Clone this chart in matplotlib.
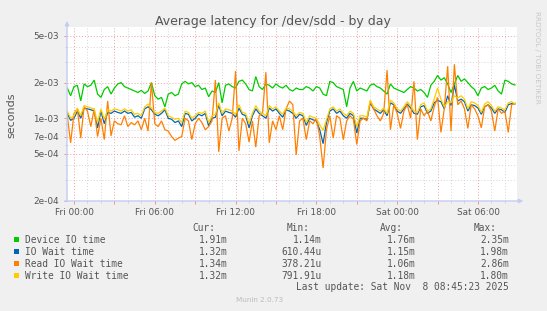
import numpy as np
import matplotlib
matplotlib.use("Agg")
import matplotlib.pyplot as plt
from matplotlib.patches import Rectangle

# ---------------- data (milliseconds), 15-minute samples from Thu 23:30 ----------------
t_start_hours = -0.5
step_hours = 0.25

device_ms = [
    1.80, 1.55, 1.85, 1.90, 1.40, 1.95, 1.85, 1.90, 2.10, 1.60,
    1.50, 1.75, 1.85, 1.60, 1.80, 1.95, 2.00, 1.85, 1.80, 1.75,
    1.70, 1.65, 1.72, 1.62, 1.70, 2.00, 1.55, 1.45, 1.50, 1.25,
    1.60, 1.65, 1.55, 1.60, 1.95, 2.05, 1.95, 2.00, 1.85, 1.90,
    1.75, 1.80, 1.52, 1.70, 1.65, 2.00, 1.35, 1.90, 1.95, 1.85,
    1.80, 2.05, 2.10, 1.95, 1.75, 1.70, 2.25, 1.85, 1.75, 1.95,
    1.90, 1.80, 1.95, 1.85, 1.80, 1.90, 1.75, 1.70, 1.80, 1.75,
    1.75, 1.85, 1.80, 1.70, 1.85, 1.80, 1.60, 1.55, 2.05, 2.00,
    1.85, 1.80, 1.75, 1.25, 1.80, 2.05, 1.70, 1.80, 1.75, 1.70,
    1.90, 1.95, 1.85, 1.80, 1.70, 1.60, 1.95, 1.80, 1.75, 1.70,
    1.65, 1.75, 1.85, 1.80, 1.70, 1.75, 1.65, 1.50, 1.90, 2.05,
    2.30, 2.10, 2.20, 1.95, 1.65, 1.95, 2.30, 2.05, 2.15, 2.00,
    1.85, 1.75, 1.55, 1.80, 1.85, 1.75, 1.80, 1.90, 1.70, 1.60,
    2.10, 2.05, 1.95, 1.91,
]

iowait_ms = [
    1.10, 0.96, 1.00, 1.15, 1.00, 1.22, 1.20, 1.18, 1.15, 0.83,
    1.15, 0.90, 1.12, 1.10, 1.15, 1.12, 1.10, 1.15, 1.10, 1.12,
    1.02, 1.05, 1.00, 1.20, 1.25, 1.18, 1.08, 1.05, 1.10, 1.18,
    1.00, 0.98, 0.92, 0.95, 0.85, 1.10, 1.08, 0.95, 1.00, 1.08,
    1.05, 1.10, 0.86, 1.00, 1.02, 1.29, 1.05, 1.15, 1.12, 1.10,
    1.02, 1.22, 1.08, 1.05, 0.83, 1.05, 1.20, 1.10, 1.05, 1.00,
    1.22, 1.15, 1.20, 1.10, 1.02, 1.18, 1.15, 1.10, 1.00, 1.08,
    1.05, 0.87, 1.00, 0.97, 0.95, 0.80, 0.61, 0.92, 1.15, 1.20,
    1.10, 1.15, 1.05, 1.00, 1.10, 1.05, 0.75, 1.00, 1.00, 0.97,
    1.35, 1.20, 1.15, 1.10, 1.18, 1.05, 1.35, 1.30, 1.15, 1.10,
    1.20, 1.32, 1.22, 1.10, 1.08, 1.25, 1.28, 1.10, 1.15, 1.35,
    1.42, 1.38, 1.20, 1.55, 1.28, 1.90, 1.40, 1.45, 1.38, 1.15,
    1.30, 1.28, 1.22, 1.08, 1.25, 1.30, 1.22, 1.10, 1.20, 1.18,
    1.12, 1.30, 1.33, 1.32,
]

read_ms = [
    1.05, 0.62, 1.10, 1.20, 0.68, 1.25, 1.15, 0.85, 1.20, 0.70,
    1.00, 0.66, 1.40, 0.71, 0.95, 0.90, 0.88, 1.05, 0.85, 0.92,
    0.88, 0.95, 0.80, 1.00, 0.78, 2.00, 0.90, 0.85, 0.95, 0.80,
    0.78, 0.70, 0.65, 0.68, 0.70, 1.00, 0.95, 0.66, 0.90, 1.00,
    0.92, 0.80, 0.85, 0.95, 2.10, 0.52, 1.00, 1.05, 0.78, 1.00,
    2.50, 0.53, 1.00, 0.90, 0.63, 0.95, 0.57, 1.05, 1.10, 2.45,
    0.62, 0.95, 0.80, 1.05, 0.80, 1.20, 1.40, 1.30, 0.49, 0.95,
    1.00, 0.66, 0.95, 0.90, 1.00, 0.70, 0.38, 0.80, 1.05, 0.68,
    1.05, 1.00, 0.66, 0.95, 1.05, 0.98, 0.60, 0.95, 1.00, 0.95,
    1.40, 1.20, 1.05, 0.95, 1.10, 2.55, 0.80, 1.30, 1.10, 0.82,
    1.15, 1.30, 1.00, 2.05, 0.66, 1.20, 1.05, 1.15, 0.95, 1.25,
    1.50, 0.76, 1.20, 2.75, 0.78, 2.86, 1.30, 1.40, 1.20, 0.82,
    1.30, 1.20, 1.05, 0.83, 1.25, 1.30, 1.15, 0.78, 1.20, 1.10,
    1.15, 0.76, 1.30, 1.34,
]

write_ms = [
    1.15, 1.00, 1.05, 1.22, 1.05, 1.28, 1.25, 1.22, 1.20, 0.92,
    1.20, 0.98, 1.18, 1.15, 1.20, 1.18, 1.15, 1.20, 1.15, 1.18,
    1.08, 1.10, 1.05, 1.25, 1.32, 1.22, 1.12, 1.10, 1.15, 1.22,
    1.05, 1.02, 0.98, 1.00, 0.92, 1.15, 1.12, 1.00, 1.05, 1.12,
    1.10, 1.15, 0.92, 1.05, 1.08, 1.35, 1.10, 1.20, 1.18, 1.15,
    1.08, 1.30, 1.12, 1.10, 0.90, 1.10, 1.28, 1.15, 1.10, 1.05,
    1.28, 1.20, 1.25, 1.15, 1.08, 1.22, 1.20, 1.15, 1.05, 1.12,
    1.10, 0.92, 1.05, 1.02, 1.00, 0.88, 0.79, 0.97, 1.20, 1.25,
    1.15, 1.20, 1.10, 1.05, 1.15, 1.10, 0.85, 1.05, 1.05, 1.02,
    1.42, 1.25, 1.20, 1.15, 1.22, 1.10, 1.42, 1.35, 1.20, 1.15,
    1.25, 1.38, 1.28, 1.15, 1.12, 1.30, 1.35, 1.15, 1.20, 1.45,
    1.80, 1.45, 1.25, 1.38, 1.35, 1.55, 1.48, 1.55, 1.45, 1.20,
    1.38, 1.35, 1.28, 1.12, 1.32, 1.38, 1.28, 1.15, 1.25, 1.22,
    1.18, 1.35, 1.38, 1.32,
]

series_names = ["Device IO time", "IO Wait time", "Read IO Wait time", "Write IO Wait time"]
series_colors = ["#00CC00", "#0066B3", "#FF8000", "#FFCC00"]
stats_cur = ["1.91m", "1.32m", "1.34m", "1.32m"]
stats_min = ["1.14m", "610.44u", "378.21u", "791.91u"]
stats_avg = ["1.76m", "1.15m", "1.06m", "1.18m"]
stats_max = ["2.35m", "1.98m", "2.86m", "1.80m"]

ytick_values = [2e-4, 5e-4, 7e-4, 1e-3, 2e-3, 5e-3]
ytick_labels = ["2e-04", "5e-04", "7e-04", "1e-03", "2e-03", "5e-03"]
yminor_values = [3e-4, 4e-4, 6e-4, 8e-4, 9e-4, 3e-3, 4e-3]
xtick_hours = [0, 6, 12, 18, 24, 30]
xtick_labels = ["Fri 00:00", "Fri 06:00", "Fri 12:00", "Fri 18:00", "Sat 00:00", "Sat 06:00"]

# ---------------- figure ----------------
W, H = 547, 311
fig = plt.figure(figsize=(W / 100, H / 100), dpi=100, facecolor="#F0F0F0")

px_l, px_r, px_t, px_b = 67, 517, 27, 201
ax = fig.add_axes([px_l / W, 1 - px_b / H, (px_r - px_l) / W, (px_b - px_t) / H])
ax.set_facecolor("white")

hours = t_start_hours + step_hours * np.arange(len(device_ms))
for vals, col in zip([device_ms, iowait_ms, read_ms, write_ms], series_colors):
    ax.plot(hours, np.array(vals) * 1e-3, color=col, lw=0.9, solid_joinstyle="miter")

ax.set_yscale("log")
ax.set_ylim(2e-4, 5.9e-3)
ax.set_xlim(-0.52, 32.9)

ax.set_yticks(ytick_values)
ax.set_yticklabels(ytick_labels)
ax.set_yticks(yminor_values, minor=True)
ax.yaxis.set_minor_formatter(matplotlib.ticker.NullFormatter())

ax.set_xticks(np.arange(0, 33, 3))
ax.set_xticklabels([xtick_labels[xtick_hours.index(h)] if h in xtick_hours else "" for h in range(0, 33, 3)])
ax.set_xticks(np.arange(0, 33, 1), minor=True)

grid_major = dict(color="#F0A0A0", lw=0.7, linestyle=(0, (1, 2)))
grid_minor = dict(color="#D4D4D4", lw=0.7, linestyle=(0, (1, 2)))
ax.grid(True, which="major", **grid_major)
ax.grid(True, which="minor", **grid_minor)
ax.set_axisbelow(True)

for s in ax.spines.values():
    s.set_visible(False)

ax.tick_params(axis="both", which="major", length=2, width=0.6, color="#F08080",
               labelsize=6.4, labelcolor="#555555")
ax.tick_params(axis="both", which="minor", length=1.5, width=0.6, color="#C8C8C8")
ax.tick_params(axis="x", pad=3)
ax.tick_params(axis="y", pad=4)

axis_col = "#C4CCF2"
ax.annotate("", xy=(0, 1.035), xytext=(0, 0), xycoords="axes fraction",
            arrowprops=dict(arrowstyle="-|>", color=axis_col, lw=1, mutation_scale=6,
                            shrinkA=0, shrinkB=0), annotation_clip=False)
ax.annotate("", xy=(1.014, 0), xytext=(-0.005, 0), xycoords="axes fraction",
            arrowprops=dict(arrowstyle="-|>", color=axis_col, lw=1, mutation_scale=6,
                            shrinkA=0, shrinkB=0), annotation_clip=False)

# ---------------- texts ----------------
def fx(px):
    return px / W

def fy(py):
    return 1 - py / H

fig.text(fx(273), fy(25.5), "Average latency for /dev/sdd - by day", ha="center", va="baseline",
         fontsize=9, color="#555555")
fig.text(fx(11), fy(115), "seconds", rotation=90, ha="center", va="center",
         fontsize=8, color="#555555")
fig.text(fx(537), fy(57), "RRDTOOL / TOBI OETIKER", rotation=270, ha="center", va="center",
         fontsize=5.2, color="#C8C8C8")

mono = dict(family="DejaVu Sans Mono", fontsize=6.85, color="#555555", va="center")
fig.text(fx(215), fy(228.3), "Cur:", ha="right", **mono)
fig.text(fx(310), fy(228.3), "Min:", ha="right", **mono)
fig.text(fx(403), fy(228.3), "Avg:", ha="right", **mono)
fig.text(fx(497), fy(228.3), "Max:", ha="right", **mono)

row_y = [239.7, 251.7, 263.7, 275.7]
for i, name in enumerate(series_names):
    y = row_y[i]
    fig.patches.append(Rectangle((fx(13.5), fy(y + 2.7)), 5.3 / W, 5.3 / H,
                                 transform=fig.transFigure, facecolor=series_colors[i],
                                 edgecolor="none"))
    fig.text(fx(25), fy(y), name, ha="left", **mono)
    fig.text(fx(228), fy(y), stats_cur[i], ha="right", **mono)
    fig.text(fx(322), fy(y), stats_min[i], ha="right", **mono)
    fig.text(fx(416), fy(y), stats_avg[i], ha="right", **mono)
    fig.text(fx(509), fy(y), stats_max[i], ha="right", **mono)

fig.text(fx(509), fy(287.3), "Last update: Sat Nov  8 08:45:23 2025", ha="right", **mono)
fig.text(fx(260), fy(300), "Munin 2.0.73", ha="center", va="center", fontsize=5.2, color="#BBBBBB")

fig.savefig("out.png", dpi=100, facecolor=fig.get_facecolor())
